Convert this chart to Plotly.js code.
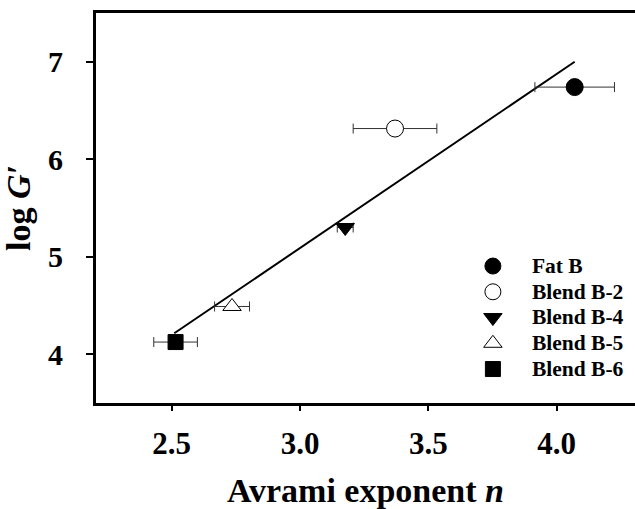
<!DOCTYPE html>
<html>
<head>
<meta charset="utf-8">
<script src="https://cdn.plot.ly/plotly-3.0.1.min.js"></script>
<style>html,body{margin:0;padding:0;background:#fff;}#chart{width:635px;height:509px;}</style>
</head>
<body>
<div id="chart"></div>
<script>
var sampleNames = ['Fat B', 'Blend B-2', 'Blend B-4', 'Blend B-5', 'Blend B-6'];
var avramiN = [4.07, 3.37, 3.176, 2.735, 2.515];
var logG = [6.74, 6.315, 5.30, 4.49, 4.125];
var nErr = [0.155, 0.163, 0.031, 0.068, 0.085];
var fitN = [2.51, 4.07];
var fitLogG = [4.215, 7.0];
var xTickVals = [2.5, 3.0, 3.5, 4.0];
var xTickText = ['2.5', '3.0', '3.5', '4.0'];
var yTickVals = [4, 5, 6, 7];
var yTickText = ['4', '5', '6', '7'];

var symbols = ['circle', 'circle', 'triangle-down', 'triangle-up', 'square'];
var fills = ['#000', '#fff', '#000', '#fff', '#000'];
var sizes = [17, 17, 16, 16, 15];

function bold(a) { return a.map(function (s) { return '<b>' + s + '</b>'; }); }

var traces = [{
  x: fitN, y: fitLogG, mode: 'lines', showlegend: false,
  line: {color: '#000', width: 2}, hoverinfo: 'skip'
}];
for (var i = 0; i < sampleNames.length; i++) {
  traces.push({
    x: [avramiN[i]], y: [logG[i]],
    name: '<b><span style="font-size:21.5px">' + sampleNames[i] + '</span></b>',
    mode: 'markers',
    marker: {symbol: symbols[i], color: fills[i], size: sizes[i], line: {color: '#000', width: 1}},
    error_x: {type: 'data', array: [nErr[i]], visible: true, color: '#333', thickness: 1, width: 5}
  });
}

var layout = {
  width: 635, height: 509,
  margin: {l: 96, r: 0, t: 13, b: 106, autoexpand: false},
  paper_bgcolor: '#fff', plot_bgcolor: '#fff',
  font: {family: 'Liberation Serif', color: '#000'},
  xaxis: {
    range: [2.205, 4.305], tickmode: 'array', tickvals: xTickVals, ticktext: bold(xTickText),
    showgrid: false, zeroline: false, showline: true, linecolor: '#000', linewidth: 3, mirror: true,
    ticks: 'outside', ticklen: 5, tickwidth: 2, tickcolor: '#000', ticklabelstandoff: 6,
    tickfont: {size: 31, family: 'Liberation Serif', color: '#000'},
    title: {text: '<b>Avrami exponent <i>n</i></b>', font: {size: 34, family: 'Liberation Serif', color: '#000'}, standoff: 21}
  },
  yaxis: {
    range: [3.5, 7.5], tickmode: 'array', tickvals: yTickVals, ticktext: bold(yTickText),
    showgrid: false, zeroline: false, showline: true, linecolor: '#000', linewidth: 3,
    ticks: 'outside', ticklen: 7, tickwidth: 2, tickcolor: '#000', ticklabelstandoff: 17,
    tickfont: {size: 30, family: 'Liberation Serif', color: '#000'},
    title: {text: '<b>log <i>G′</i></b>', font: {size: 34, family: 'Liberation Serif', color: '#000'}, standoff: 9}
  },
  legend: {
    x: 0.664, y: 0.397, xanchor: 'left', yanchor: 'top',
    bgcolor: 'rgba(0,0,0,0)', borderwidth: 0, itemwidth: 68,
    font: {size: 17.5, family: 'Liberation Serif', color: '#000'},
    itemsizing: 'trace'
  }
};

Plotly.newPlot('chart', traces, layout, {displayModeBar: false, staticPlot: true});
</script>
</body>
</html>
